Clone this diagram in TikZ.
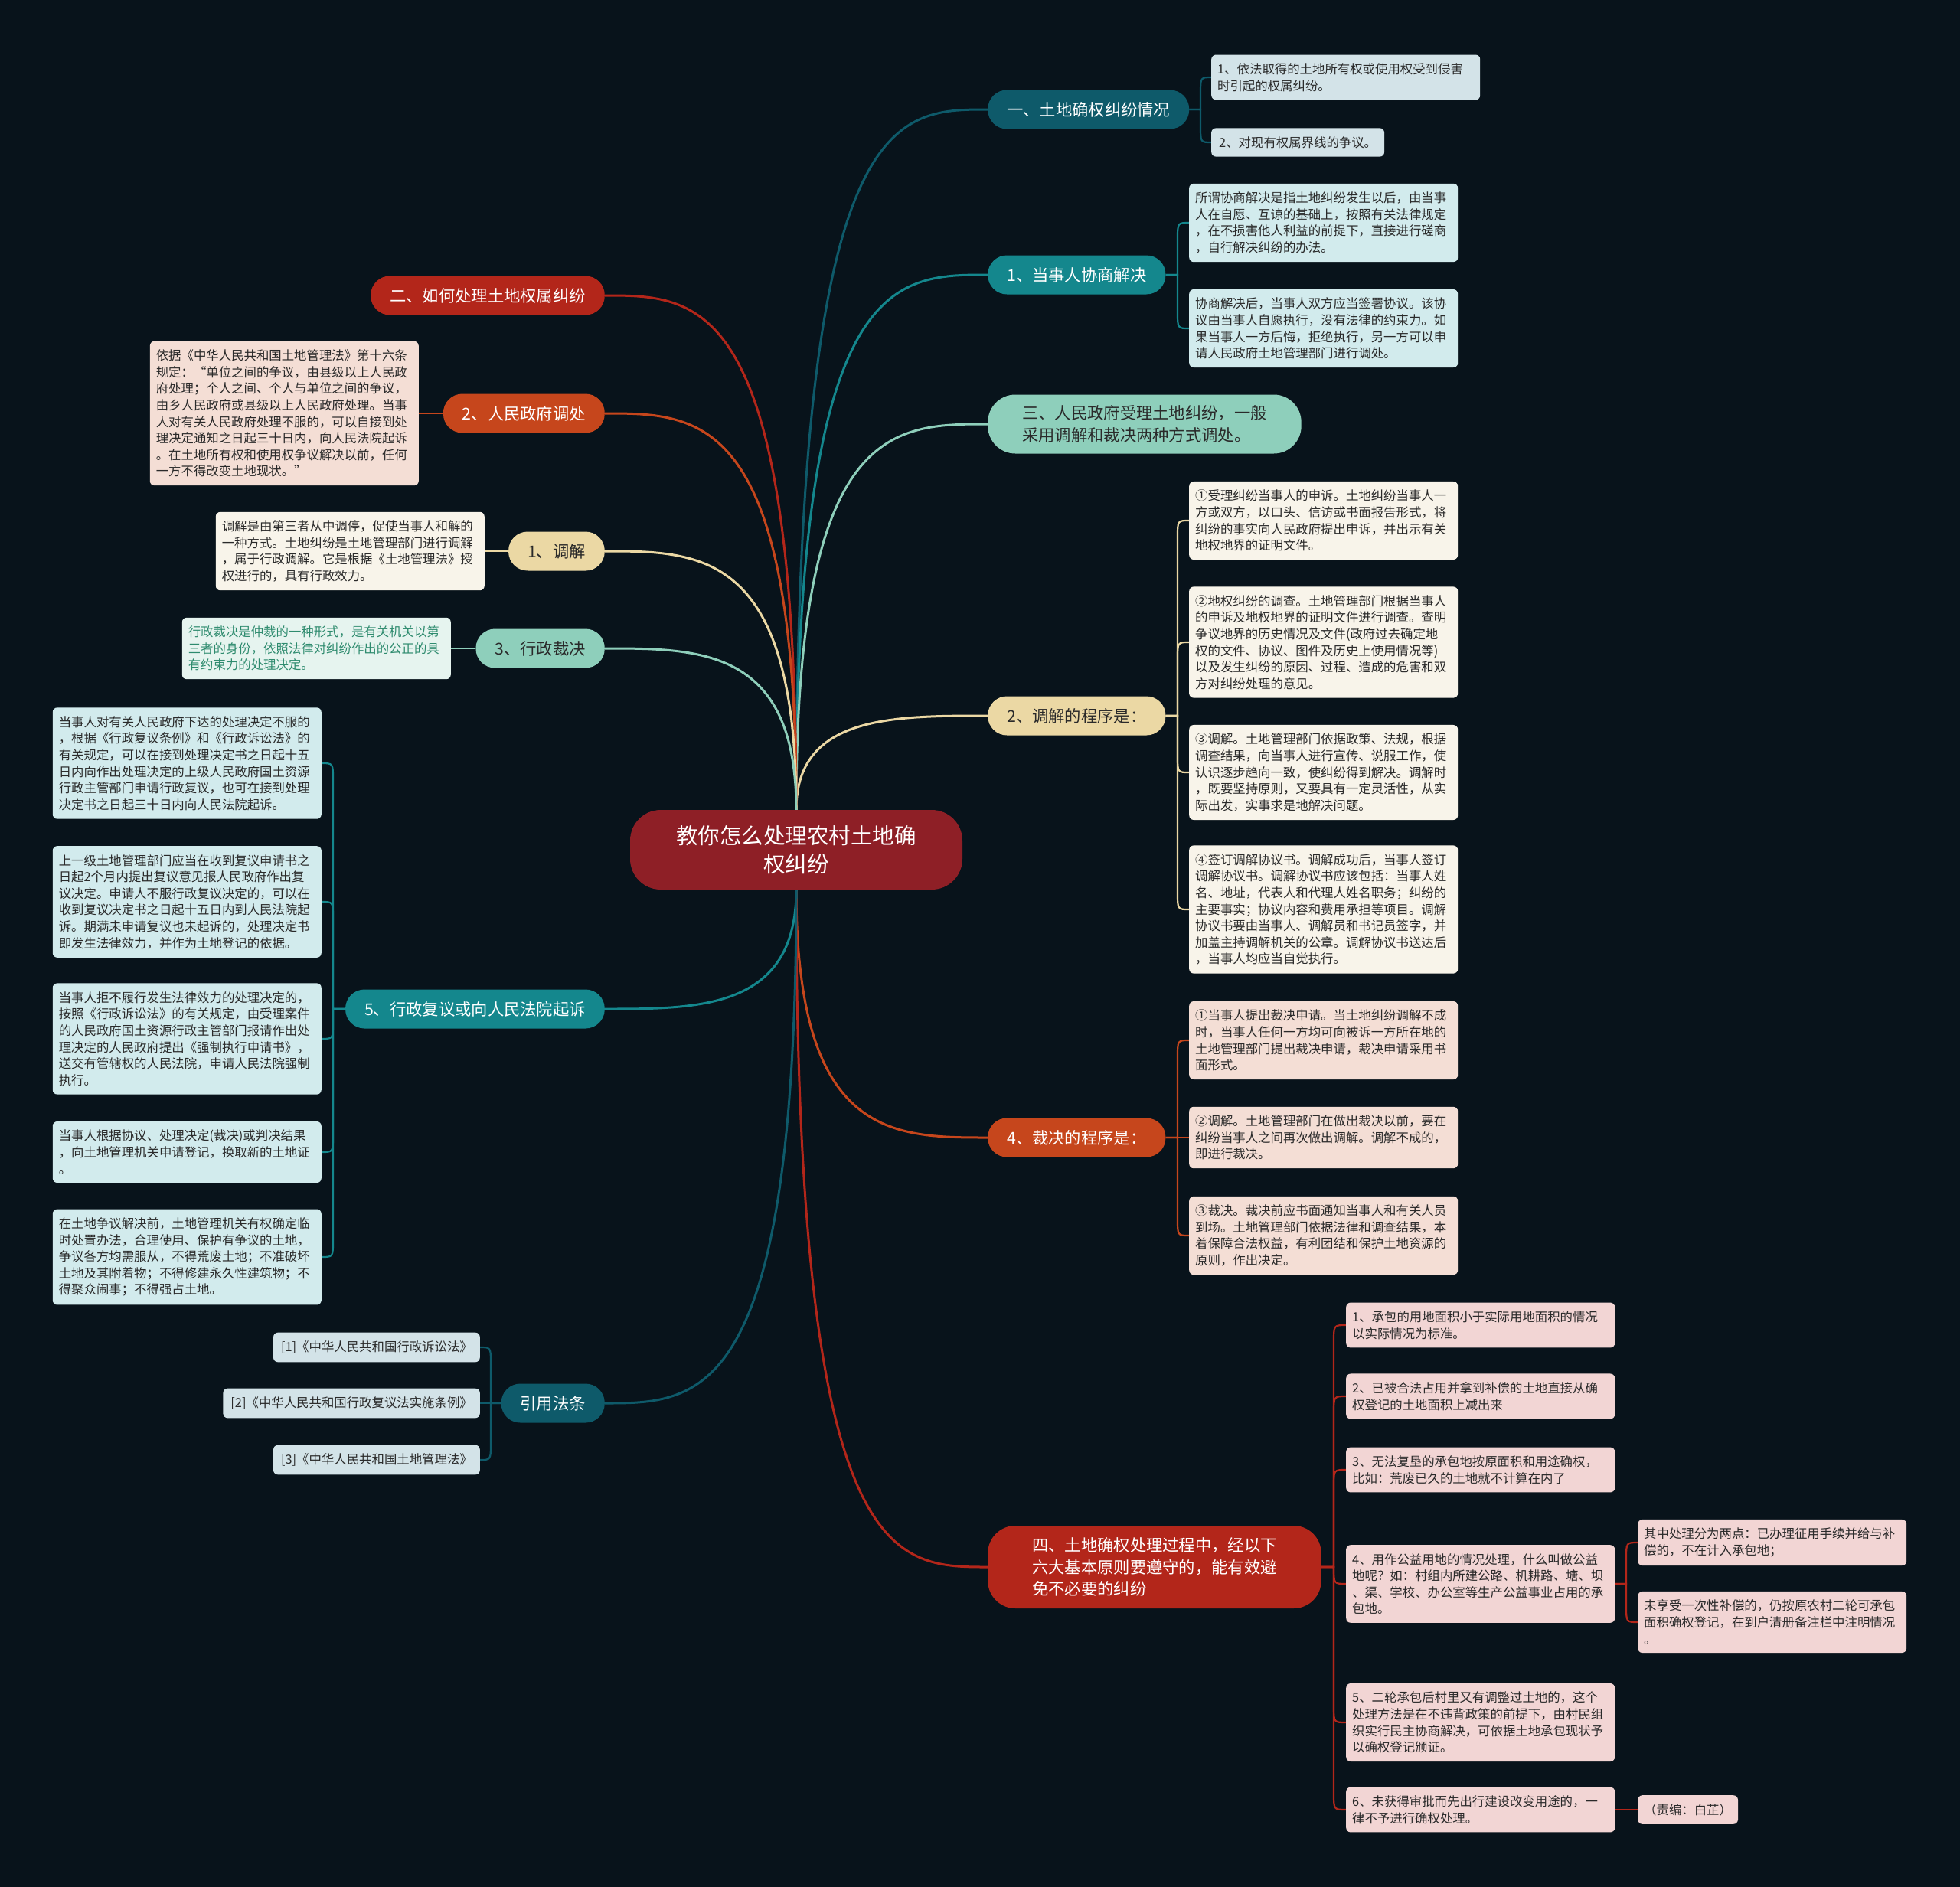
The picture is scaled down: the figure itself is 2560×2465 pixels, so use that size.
\documentclass[tikz,border=0pt]{standalone}
\usepackage{fontspec}
\setmainfont{Noto Sans CJK SC}
\usetikzlibrary{backgrounds}
\definecolor{cBg}{HTML}{08131B}
\definecolor{cCen}{HTML}{8E1F26}
\definecolor{cDteal}{HTML}{0E5A6A}
\definecolor{cTeal}{HTML}{14878D}
\definecolor{cMint}{HTML}{8ECFBB}
\definecolor{cBeige}{HTML}{EBD8A4}
\definecolor{cOrng}{HTML}{C6461C}
\definecolor{cRed}{HTML}{B3261A}
\definecolor{cDk}{HTML}{2A2A2A}
\definecolor{fGrey}{HTML}{D3E3E8}
\definecolor{fCyan}{HTML}{D2EBED}
\definecolor{fCream}{HTML}{F8F4EA}
\definecolor{fPeach}{HTML}{F4DED5}
\definecolor{fPink}{HTML}{F2D5D4}
\definecolor{fMint}{HTML}{E6F4EF}
\definecolor{tGreen}{HTML}{2E8B6E}
\tikzset{
  leaf/.style={rounded corners=6pt, inner xsep=8pt, inner ysep=11pt, text width=335pt, align=left,
    font=\fontsize{16.4}{21.6}\selectfont, text=cDk},
  leafs/.style={rounded corners=6pt, inner xsep=10pt, inner ysep=11pt,
    font=\fontsize{16.4}{21.6}\selectfont, text=cDk},
  br/.style={rounded corners=25pt, minimum height=51pt, inner xsep=25pt, font=\fontsize{21.3}{28.4}\selectfont},
  mainln/.style={line width=3pt},
  subln/.style={line width=2.2pt},
}
\begin{document}
\begin{tikzpicture}[x=1pt,y=-1pt]
\useasboundingbox (0,0) rectangle (2560,2465);
% ---------- centre
\node[fill=cCen, text=white, rounded corners=40pt, minimum width=434pt, minimum height=104pt, align=center,
  font=\fontsize{28.5}{37.5}\selectfont] (C) at (1040,1110) {教你怎么处理农村土地确\\权纠纷};
% ---------- right branches
\node[br, fill=cDteal, text=white, anchor=west] (T1) at (1290,143) {一、土地确权纠纷情况};
\node[br, fill=cTeal, text=white, anchor=west] (T2) at (1290,359) {1、当事人协商解决};
\node[br, fill=cMint, text=cDk, anchor=west, align=left, rounded corners=36pt, inner xsep=45pt, minimum height=77pt] (T3) at (1290,554) {三、人民政府受理土地纠纷，一般\\采用调解和裁决两种方式调处。};
\node[br, fill=cBeige, text=cDk, anchor=west] (T4) at (1290,935) {2、调解的程序是：};
\node[br, fill=cOrng, text=white, anchor=west] (T5) at (1290,1486) {4、裁决的程序是：};
\node[br, fill=cRed, text=white, anchor=west, align=left, rounded corners=36pt, inner xsep=58pt, minimum height=108pt] (T6) at (1290,2047) {四、土地确权处理过程中，经以下\\六大基本原则要遵守的，能有效避\\免不必要的纠纷};
% ---------- left branches
\node[br, fill=cRed, text=white, anchor=east] (B1) at (790,386) {二、如何处理土地权属纠纷};
\node[br, fill=cOrng, text=white, anchor=east] (B2) at (790,540) {2、人民政府调处};
\node[br, fill=cBeige, text=cDk, anchor=east] (B3) at (790,720) {1、调解};
\node[br, fill=cMint, text=cDk, anchor=east] (B4) at (790,847) {3、行政裁决};
\node[br, fill=cTeal, text=white, anchor=east] (B5) at (790,1318) {5、行政复议或向人民法院起诉};
\node[br, fill=cDteal, text=white, anchor=east] (B6) at (790,1833) {引用法条};
% ---------- right leaves
\node[leaf, fill=fGrey, anchor=west] (L1a) at (1582,101) {1、依法取得的土地所有权或使用权受到侵害\\时引起的权属纠纷。};
\node[leafs, fill=fGrey, anchor=west] (L1b) at (1582,186) {2、对现有权属界线的争议。};
\node[leaf, fill=fCyan, anchor=west] (L2a) at (1553,291) {所谓协商解决是指土地纠纷发生以后，由当事\\人在自愿、互谅的基础上，按照有关法律规定\\，在不损害他人利益的前提下，直接进行磋商\\，自行解决纠纷的办法。};
\node[leaf, fill=fCyan, anchor=west] (L2b) at (1553,429) {协商解决后，当事人双方应当签署协议。该协\\议由当事人自愿执行，没有法律的约束力。如\\果当事人一方后悔，拒绝执行，另一方可以申\\请人民政府土地管理部门进行调处。};
\node[leaf, fill=fCream, anchor=west] (L4a) at (1553,680) {①受理纠纷当事人的申诉。土地纠纷当事人一\\方或双方，以口头、信访或书面报告形式，将\\纠纷的事实向人民政府提出申诉，并出示有关\\地权地界的证明文件。};
\node[leaf, fill=fCream, anchor=west] (L4b) at (1553,839) {②地权纠纷的调查。土地管理部门根据当事人\\的申诉及地权地界的证明文件进行调查。查明\\争议地界的历史情况及文件(政府过去确定地\\权的文件、协议、图件及历史上使用情况等)\\以及发生纠纷的原因、过程、造成的危害和双\\方对纠纷处理的意见。};
\node[leaf, fill=fCream, anchor=west] (L4c) at (1553,1009) {③调解。土地管理部门依据政策、法规，根据\\调查结果，向当事人进行宣传、说服工作，使\\认识逐步趋向一致，使纠纷得到解决。调解时\\，既要坚持原则，又要具有一定灵活性，从实\\际出发，实事求是地解决问题。};
\node[leaf, fill=fCream, anchor=west] (L4d) at (1553,1188) {④签订调解协议书。调解成功后，当事人签订\\调解协议书。调解协议书应该包括：当事人姓\\名、地址，代表人和代理人姓名职务；纠纷的\\主要事实；协议内容和费用承担等项目。调解\\协议书要由当事人、调解员和书记员签字，并\\加盖主持调解机关的公章。调解协议书送达后\\，当事人均应当自觉执行。};
\node[leaf, fill=fPeach, anchor=west] (L5a) at (1553,1359) {①当事人提出裁决申请。当土地纠纷调解不成\\时，当事人任何一方均可向被诉一方所在地的\\土地管理部门提出裁决申请，裁决申请采用书\\面形式。};
\node[leaf, fill=fPeach, anchor=west] (L5b) at (1553,1486) {②调解。土地管理部门在做出裁决以前，要在\\纠纷当事人之间再次做出调解。调解不成的，\\即进行裁决。};
\node[leaf, fill=fPeach, anchor=west] (L5c) at (1553,1614) {③裁决。裁决前应书面通知当事人和有关人员\\到场。土地管理部门依据法律和调查结果，本\\着保障合法权益，有利团结和保护土地资源的\\原则，作出决定。};
\node[leaf, fill=fPink, anchor=west] (L6a) at (1758,1731) {1、承包的用地面积小于实际用地面积的情况\\以实际情况为标准。};
\node[leaf, fill=fPink, anchor=west] (L6b) at (1758,1824) {2、已被合法占用并拿到补偿的土地直接从确\\权登记的土地面积上减出来};
\node[leaf, fill=fPink, anchor=west] (L6c) at (1758,1920) {3、无法复垦的承包地按原面积和用途确权，\\比如：荒废已久的土地就不计算在内了};
\node[leaf, fill=fPink, anchor=west] (L6d) at (1758,2069) {4、用作公益用地的情况处理，什么叫做公益\\地呢？如：村组内所建公路、机耕路、塘、坝\\、渠、学校、办公室等生产公益事业占用的承\\包地。};
\node[leaf, fill=fPink, anchor=west] (L6e) at (1758,2250) {5、二轮承包后村里又有调整过土地的，这个\\处理方法是在不违背政策的前提下，由村民组\\织实行民主协商解决，可依据土地承包现状予\\以确权登记颁证。};
\node[leaf, fill=fPink, anchor=west] (L6f) at (1758,2364) {6、未获得审批而先出行建设改变用途的，一\\律不予进行确权处理。};
\node[leaf, fill=fPink, anchor=west] (L6d1) at (2139,2015) {其中处理分为两点：已办理征用手续并给与补\\偿的，不在计入承包地；};
\node[leaf, fill=fPink, anchor=west] (L6d2) at (2139,2119) {未享受一次性补偿的，仍按原农村二轮可承包\\面积确权登记，在到户清册备注栏中注明情况\\。};
\node[leafs, fill=fPink, anchor=west, inner xsep=8pt] (L6f1) at (2139,2364) {（责编：白芷）};
% ---------- left leaves
\node[leaf, fill=fPeach, anchor=east] (LB2) at (547,540) {依据《中华人民共和国土地管理法》第十六条\\规定：“单位之间的争议，由县级以上人民政\\府处理；个人之间、个人与单位之间的争议，\\由乡人民政府或县级以上人民政府处理。当事\\人对有关人民政府处理不服的，可以自接到处\\理决定通知之日起三十日内，向人民法院起诉\\。在土地所有权和使用权争议解决以前，任何\\一方不得改变土地现状。”};
\node[leaf, fill=fCream, anchor=east] (LB3) at (633,720) {调解是由第三者从中调停，促使当事人和解的\\一种方式。土地纠纷是土地管理部门进行调解\\，属于行政调解。它是根据《土地管理法》授\\权进行的，具有行政效力。};
\node[leaf, fill=fMint, text=tGreen, anchor=east] (LB4) at (589,847) {行政裁决是仲裁的一种形式，是有关机关以第\\三者的身份，依照法律对纠纷作出的公正的具\\有约束力的处理决定。};
\node[leaf, fill=fCyan, anchor=east] (LB5a) at (420,997) {当事人对有关人民政府下达的处理决定不服的\\，根据《行政复议条例》和《行政诉讼法》的\\有关规定，可以在接到处理决定书之日起十五\\日内向作出处理决定的上级人民政府国土资源\\行政主管部门申请行政复议，也可在接到处理\\决定书之日起三十日内向人民法院起诉。};
\node[leaf, fill=fCyan, anchor=east] (LB5b) at (420,1178) {上一级土地管理部门应当在收到复议申请书之\\日起2个月内提出复议意见报人民政府作出复\\议决定。申请人不服行政复议决定的，可以在\\收到复议决定书之日起十五日内到人民法院起\\诉。期满未申请复议也未起诉的，处理决定书\\即发生法律效力，并作为土地登记的依据。};
\node[leaf, fill=fCyan, anchor=east] (LB5c) at (420,1357) {当事人拒不履行发生法律效力的处理决定的，\\按照《行政诉讼法》的有关规定，由受理案件\\的人民政府国土资源行政主管部门报请作出处\\理决定的人民政府提出《强制执行申请书》，\\送交有管辖权的人民法院，申请人民法院强制\\执行。};
\node[leaf, fill=fCyan, anchor=east] (LB5d) at (420,1505) {当事人根据协议、处理决定(裁决)或判决结果\\，向土地管理机关申请登记，换取新的土地证\\。};
\node[leaf, fill=fCyan, anchor=east] (LB5e) at (420,1642) {在土地争议解决前，土地管理机关有权确定临\\时处置办法，合理使用、保护有争议的土地，\\争议各方均需服从，不得荒废土地；不准破坏\\土地及其附着物；不得修建永久性建筑物；不\\得聚众闹事；不得强占土地。};
\node[leafs, fill=fGrey, anchor=east] (LB6a) at (627,1760) {[1]《中华人民共和国行政诉讼法》};
\node[leafs, fill=fGrey, anchor=east] (LB6b) at (627,1833) {[2]《中华人民共和国行政复议法实施条例》};
\node[leafs, fill=fGrey, anchor=east] (LB6c) at (627,1907) {[3]《中华人民共和国土地管理法》};
% ---------- connectors
\begin{pgfonlayer}{background}
\fill[cBg] (0,0) rectangle (2560,2465);
% main branches
\draw[mainln, cDteal] (C.north) .. controls (1040,143) and (1165,143) .. (T1.west);
\draw[mainln, cTeal] (C.north) .. controls (1040,359) and (1165,359) .. (T2.west);
\draw[mainln, cMint] (C.north) .. controls (1040,554) and (1165,554) .. (T3.west);
\draw[mainln, cBeige] (C.north) .. controls (1040,935) and (1165,935) .. (T4.west);
\draw[mainln, cOrng] (C.south) .. controls (1040,1486) and (1165,1486) .. (T5.west);
\draw[mainln, cRed] (C.south) .. controls (1040,2047) and (1165,2047) .. (T6.west);
\draw[mainln, cRed] (C.north) .. controls (1040,386) and (915,386) .. (B1.east);
\draw[mainln, cOrng] (C.north) .. controls (1040,540) and (915,540) .. (B2.east);
\draw[mainln, cBeige] (C.north) .. controls (1040,720) and (915,720) .. (B3.east);
\draw[mainln, cMint] (C.north) .. controls (1040,847) and (915,847) .. (B4.east);
\draw[mainln, cTeal] (C.south) .. controls (1040,1318) and (915,1318) .. (B5.east);
\draw[mainln, cDteal] (C.south) .. controls (1040,1833) and (915,1833) .. (B6.east);
% T1
\draw[subln, cDteal] (T1.east) -- (1568,143) -- (1568,123) .. controls (1568,101) .. (L1a.west);
\draw[subln, cDteal] (T1.east) -- (1568,143) -- (1568,164) .. controls (1568,186) .. (L1b.west);
% T2
\draw[subln, cTeal] (T2.east) -- (1538,359) -- (1538,313) .. controls (1538,291) .. (L2a.west);
\draw[subln, cTeal] (T2.east) -- (1538,359) -- (1538,407) .. controls (1538,429) .. (L2b.west);
% T4
\draw[subln, cBeige] (T4.east) -- (1538,935) -- (1538,702) .. controls (1538,680) .. (L4a.west);
\draw[subln, cBeige] (T4.east) -- (1538,935) -- (1538,861) .. controls (1538,839) .. (L4b.west);
\draw[subln, cBeige] (T4.east) -- (1538,935) -- (1538,987) .. controls (1538,1009) .. (L4c.west);
\draw[subln, cBeige] (T4.east) -- (1538,935) -- (1538,1166) .. controls (1538,1188) .. (L4d.west);
% T5
\draw[subln, cOrng] (T5.east) -- (1538,1486) -- (1538,1381) .. controls (1538,1359) .. (L5a.west);
\draw[subln, cOrng] (T5.east) -- (L5b.west);
\draw[subln, cOrng] (T5.east) -- (1538,1486) -- (1538,1592) .. controls (1538,1614) .. (L5c.west);
% T6
\draw[subln, cRed] (T6.east) -- (1742,2047) -- (1742,1753) .. controls (1742,1731) .. (L6a.west);
\draw[subln, cRed] (T6.east) -- (1742,2047) -- (1742,1846) .. controls (1742,1824) .. (L6b.west);
\draw[subln, cRed] (T6.east) -- (1742,2047) -- (1742,1942) .. controls (1742,1920) .. (L6c.west);
\draw[subln, cRed] (T6.east) -- (1742,2047) .. controls (1742,2069) .. (L6d.west);
\draw[subln, cRed] (T6.east) -- (1742,2047) -- (1742,2228) .. controls (1742,2250) .. (L6e.west);
\draw[subln, cRed] (T6.east) -- (1742,2047) -- (1742,2342) .. controls (1742,2364) .. (L6f.west);
\draw[subln, cRed] (L6d.east) -- (2124,2069) -- (2124,2037) .. controls (2124,2015) .. (L6d1.west);
\draw[subln, cRed] (L6d.east) -- (2124,2069) -- (2124,2097) .. controls (2124,2119) .. (L6d2.west);
\draw[subln, cRed] (L6f.east) -- (L6f1.west);
% left
\draw[subln, cOrng] (B2.west) -- (LB2.east);
\draw[subln, cBeige] (B3.west) -- (LB3.east);
\draw[subln, cMint] (B4.west) -- (LB4.east);
\draw[subln, cTeal] (B5.west) -- (435,1318) -- (435,1019) .. controls (435,997) .. (LB5a.east);
\draw[subln, cTeal] (B5.west) -- (435,1318) -- (435,1200) .. controls (435,1178) .. (LB5b.east);
\draw[subln, cTeal] (B5.west) -- (435,1318) -- (435,1335) .. controls (435,1357) .. (LB5c.east);
\draw[subln, cTeal] (B5.west) -- (435,1318) -- (435,1483) .. controls (435,1505) .. (LB5d.east);
\draw[subln, cTeal] (B5.west) -- (435,1318) -- (435,1620) .. controls (435,1642) .. (LB5e.east);
\draw[subln, cDteal] (B6.west) -- (641,1833) -- (641,1782) .. controls (641,1760) .. (LB6a.east);
\draw[subln, cDteal] (B6.west) -- (LB6b.east);
\draw[subln, cDteal] (B6.west) -- (641,1833) -- (641,1885) .. controls (641,1907) .. (LB6c.east);
\end{pgfonlayer}
\end{tikzpicture}
\end{document}
